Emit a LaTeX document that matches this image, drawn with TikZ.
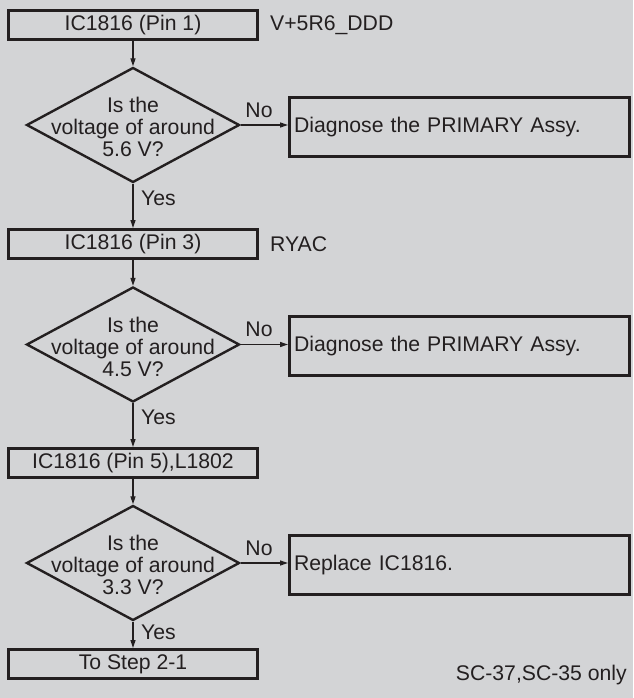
\documentclass[tikz,border=0pt]{standalone}
\usepackage{fontspec}
\setmainfont{Liberation Sans}
\usetikzlibrary{shapes.geometric,arrows.meta}
\definecolor{bg}{RGB}{211,212,214}
\definecolor{ink}{RGB}{35,31,32}
\begin{document}
\begin{tikzpicture}[x=1pt,y=-1pt,
  every node/.style={text=ink,font=\fontsize{21.2}{22}\selectfont},
  stepbox/.style={draw=ink,line width=3pt,rectangle,minimum width=249pt,minimum height=29pt,inner sep=0pt},
  actbox/.style={draw=ink,line width=3pt,rectangle,minimum width=340pt,minimum height=59pt,text width=331pt,align=left,inner sep=4.5pt},
  decide/.style={draw=ink,line width=2.4pt,diamond,minimum width=213pt,minimum height=115pt,inner sep=0pt},
  dtext/.style={align=center,inner sep=0pt},
  flow/.style={draw=ink,line width=1.3pt,-{Triangle[length=8pt,width=5pt]}},
  lbl/.style={inner sep=0pt}]
\useasboundingbox (0,0) rectangle (633,698);
\fill[bg] (0,0) rectangle (633,698);

\node[stepbox] (b1) at (133,25) {IC1816 (Pin 1)};
\node[lbl,anchor=west] (n1) at (270,25) {V+5R6\_DDD};
\node[decide] (d1) at (133,125) {};
\node[dtext] (t1) at (133,127) {Is the\\voltage of around\\5.6 V?};
\node[actbox] (r1) at (459.5,127) {Diagnose the PRIMARY Assy.};

\node[stepbox] (b2) at (133,244) {IC1816 (Pin 3)};
\node[lbl,anchor=west] (n2) at (270,244) {RYAC};
\node[decide] (d2) at (133,344.5) {};
\node[dtext] (t2) at (133,346.5) {Is the\\voltage of around\\4.5 V?};
\node[actbox] (r2) at (459.5,346) {Diagnose the PRIMARY Assy.};

\node[stepbox] (b3) at (133,463) {IC1816 (Pin 5),L1802};
\node[decide] (d3) at (133,563) {};
\node[dtext] (t3) at (133,565) {Is the\\voltage of around\\3.3 V?};
\node[actbox] (r3) at (459.5,565) {Replace IC1816.};

\node[stepbox] (b4) at (133,664) {To Step 2-1};
\node[lbl,anchor=east] (n3) at (627,675) {SC-37,SC-35 only};

\draw[flow] (b1) -- (d1);
\draw[flow] (d1) -- (b2);
\draw[flow] (b2) -- (d2);
\draw[flow] (d2) -- (b3);
\draw[flow] (b3) -- (d3);
\draw[flow] (d3) -- (b4);
\draw[flow] (d1.east) -- (d1.east -| r1.west);
\draw[flow] (d2.east) -- (d2.east -| r2.west);
\draw[flow] (d3.east) -- (d3.east -| r3.west);

\node[lbl] (no1) at (259,110) {No};
\node[lbl] (no2) at (259,329) {No};
\node[lbl] (no3) at (259,548) {No};
\node[lbl,anchor=west] (y1) at (141,198) {Yes};
\node[lbl,anchor=west] (y2) at (141,417) {Yes};
\node[lbl,anchor=west] (y3) at (141,632) {Yes};
\end{tikzpicture}
\end{document}
